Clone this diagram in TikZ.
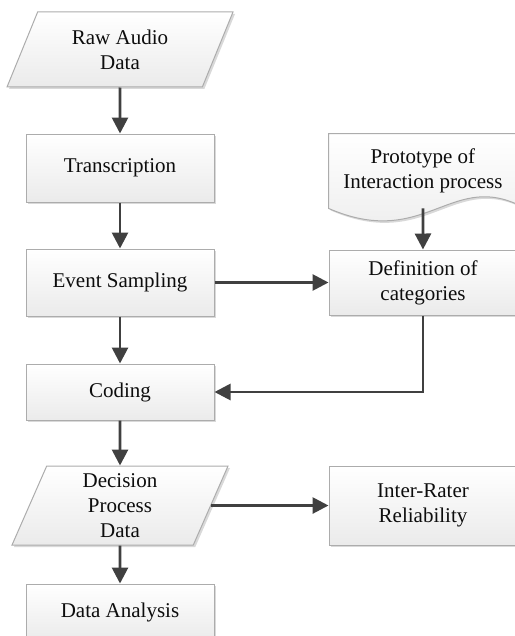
\documentclass[tikz,border=0pt]{standalone}
\usepackage{fontspec}
\setmainfont{Liberation Serif}
\usetikzlibrary{positioning,shapes.geometric,arrows.meta,shadows,calc,backgrounds}

\tikzset{
  txt/.style = {font=\fontsize{10.5}{12.5}\selectfont, text=black!95, align=center},
  fillbox/.style = {draw=gray!65, line width=0.5pt, top color=white, bottom color=gray!16,
                    drop shadow={shadow xshift=1pt, shadow yshift=-1pt, opacity=0.3}},
  box/.style = {rectangle, fillbox, txt, minimum width=94pt, inner sep=2pt},
  data/.style = {trapezium, fillbox, txt, trapezium stretches body, inner sep=1pt},
  line/.style = {draw=black!75, line width=1.4pt, -{Triangle[length=8pt,width=8pt]}}
}

\begin{document}
\begin{tikzpicture}
   \useasboundingbox (0,0) rectangle (257pt,-318pt);
   % main column
   \node[data, trapezium left angle=55, trapezium right angle=125, minimum width=113pt, minimum height=37.5pt] (raw) at (60pt,-24.75pt) {Raw Audio\\Data};
   \node[box, minimum height=34pt]   (trans)    [below=23pt of raw]      {Transcription};
   \node[box, minimum height=33.5pt] (event)    [below=23pt of trans]    {Event Sampling};
   \node[box, minimum height=28pt]   (coding)   [below=23.5pt of event]  {Coding};
   \node[data, trapezium left angle=63, trapezium right angle=117, minimum width=108pt, minimum height=39.5pt] (decision) [below=22.5pt of coding] {Decision\\Process\\Data};
   \node[box, minimum height=28pt]   (analysis) [below=19pt of decision] {Data Analysis};
   % side column
   \node[txt, minimum width=94pt, minimum height=37pt] (proto) [right=57pt of trans, yshift=-1.5pt] {Prototype of\\Interaction process};
   \node[box, minimum height=32.5pt] (defn)     [right=57pt of event]    {Definition of\\categories};
   \node[box, minimum height=39.5pt] (irr)      at (defn |- decision)    {Inter-Rater\\Reliability};
   \begin{scope}[on background layer]
     \path[fillbox] (proto.north west) -- (proto.north east) -- ($(proto.south east)+(0,2pt)$)
       .. controls ($(proto.south)+(13.5pt,17.5pt)$) and ($(proto.south)+(0,-20.5pt)$) .. (proto.south west) -- cycle;
   \end{scope}
   % connectors
   \draw[line] (raw) -- (trans);
   \draw[line] (trans) -- (event);
   \draw[line] (event) -- (coding);
   \draw[line] (coding) -- (decision);
   \draw[line] (decision) -- (analysis);
   \draw[line] (event) -- (defn);
   \draw[line] (proto.south) -- (defn);
   \draw[line] (defn.south) |- (coding.east);
   \draw[line] (decision.east) -- (irr);
\end{tikzpicture}
\end{document}
